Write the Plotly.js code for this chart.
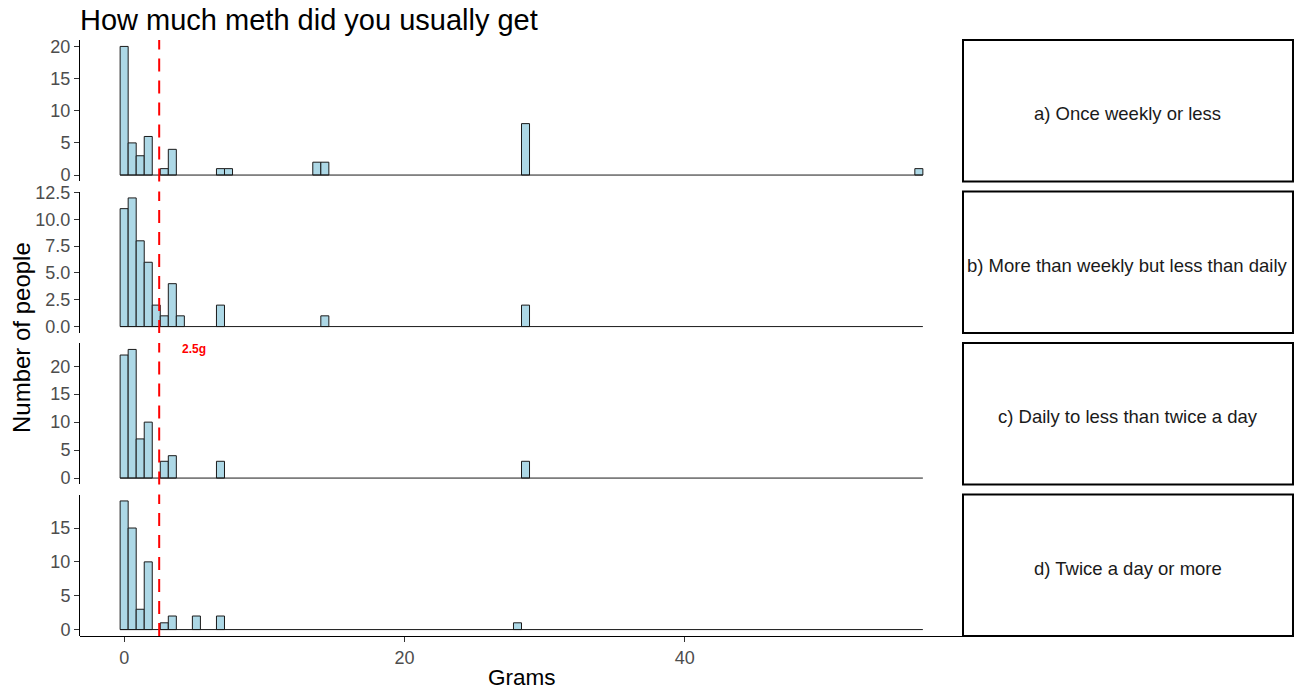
<!DOCTYPE html>
<html>
<head>
<meta charset="utf-8">
<script src="https://cdn.plot.ly/plotly-3.0.1.min.js"></script>
<style>
  html, body { margin: 0; padding: 0; background: #ffffff; }
  #chart { width: 1295px; height: 689px; }
</style>
</head>
<body>
<div id="chart"></div>
<script>
// Histogram of grams usually bought, split by how often people use.
// Bins: 100 equal-width bins from 0 g to 56.7 g (bin index -> centre in grams).
const BIN_COUNT = 100;
const BIN_WIDTH = 56.7 / (BIN_COUNT - 1);
const THRESHOLD_G = 2.5;

const panelLabels = [
  'a) Once weekly or less',
  'b) More than weekly but less than daily',
  'c) Daily to less than twice a day',
  'd) Twice a day or more'
];

// Occupied bins (index) and number of people in each, per frequency group
const binsOnceWeekly   = [0, 1, 2, 3, 5, 6, 12, 13, 24, 25, 50, 99];
const countsOnceWeekly = [20, 5, 3, 6, 1, 4, 1, 1, 2, 2, 8, 1];

const binsWeeklyDaily   = [0, 1, 2, 3, 4, 5, 6, 7, 12, 25, 50];
const countsWeeklyDaily = [11, 12, 8, 6, 2, 1, 4, 1, 2, 1, 2];

const binsDaily   = [0, 1, 2, 3, 5, 6, 12, 50];
const countsDaily = [22, 23, 7, 10, 3, 4, 3, 3];

const binsTwiceDaily   = [0, 1, 2, 3, 5, 6, 9, 12, 49];
const countsTwiceDaily = [19, 15, 3, 10, 1, 2, 2, 2, 1];

const groups = [
  { bins: binsOnceWeekly,  counts: countsOnceWeekly,  domain: [0.7626, 1.0],    dtick: 5,   fmt: '' },
  { bins: binsWeeklyDaily, counts: countsWeeklyDaily, domain: [0.5084, 0.7458], dtick: 2.5, fmt: '.1f' },
  { bins: binsDaily,       counts: countsDaily,       domain: [0.2542, 0.4916], dtick: 5,   fmt: '' },
  { bins: binsTwiceDaily,  counts: countsTwiceDaily,  domain: [0.0, 0.2374],    dtick: 5,   fmt: '' }
];

const FONT = 'Liberation Sans, Arial, sans-serif';
const TICK_FONT = { family: FONT, size: 18, color: '#4d4d4d' };
const X_DOMAIN_END = 0.72675;   // panels end where the strip boxes begin
const STRIP_END = 0.99835;

const traces = [];
const shapes = [];
const annotations = [];
const layout = {
  width: 1295,
  height: 689,
  margin: { l: 80, r: 0, t: 40, b: 53 },
  paper_bgcolor: '#ffffff',
  plot_bgcolor: '#ffffff',
  showlegend: false,
  font: { family: FONT },
  title: {
    text: 'How much meth did you usually get',
    font: { family: FONT, size: 29, color: '#000000' },
    x: 0, xref: 'paper', xanchor: 'left',
    y: 1 - 20 / 689, yref: 'container', yanchor: 'middle'
  },
  xaxis: {
    domain: [0, X_DOMAIN_END],
    range: [-3.15, 59.85],
    anchor: 'free',
    position: 0,
    tickvals: [0, 20, 40],
    ticks: 'outside',
    ticklen: 5,
    tickcolor: '#333333',
    tickfont: TICK_FONT,
    showline: true,
    linecolor: '#000000',
    linewidth: 1,
    showgrid: false,
    zeroline: false,
    fixedrange: true
  }
};

groups.forEach((g, i) => {
  const n = i + 1;
  const yName = n === 1 ? 'y' : 'y' + n;
  const axisKey = n === 1 ? 'yaxis' : 'yaxis' + n;
  const maxCount = Math.max(...g.counts);

  // outline of the empty bins along zero
  traces.push({
    type: 'scatter',
    mode: 'lines',
    x: [-BIN_WIDTH / 2, (BIN_COUNT - 0.5) * BIN_WIDTH],
    y: [0, 0],
    xaxis: 'x',
    yaxis: yName,
    line: { color: '#1a1a1a', width: 1 },
    hoverinfo: 'skip'
  });

  traces.push({
    type: 'bar',
    x: g.bins.map(b => b * BIN_WIDTH),
    y: g.counts,
    width: BIN_WIDTH,
    xaxis: 'x',
    yaxis: yName,
    marker: { color: '#ADD8E6', line: { color: '#1a1a1a', width: 1 } },
    hovertemplate: '%{y}<extra></extra>'
  });

  layout[axisKey] = {
    domain: g.domain,
    anchor: 'x',
    range: [-0.05 * maxCount, 1.05 * maxCount],
    dtick: g.dtick,
    tick0: 0,
    tickformat: g.fmt,
    ticks: 'outside',
    ticklen: 5,
    tickcolor: '#333333',
    tickfont: TICK_FONT,
    showline: true,
    linecolor: '#000000',
    linewidth: 1,
    showgrid: false,
    zeroline: false,
    fixedrange: true
  };

  // threshold line in every panel
  shapes.push({
    type: 'line',
    xref: 'x', yref: yName + ' domain',
    x0: THRESHOLD_G, x1: THRESHOLD_G, y0: 0, y1: 1,
    line: { color: '#FF0000', width: 2, dash: '13px,9px' },
    layer: 'above'
  });

  // strip box on the right with the group label
  shapes.push({
    type: 'rect',
    xref: 'paper', yref: 'paper',
    x0: X_DOMAIN_END, x1: STRIP_END, y0: g.domain[0], y1: g.domain[1],
    line: { color: '#000000', width: 2 },
    fillcolor: '#ffffff',
    layer: 'below'
  });
  annotations.push({
    xref: 'paper', yref: 'paper',
    x: (X_DOMAIN_END + STRIP_END) / 2,
    y: (g.domain[0] + g.domain[1]) / 2,
    yshift: -3,
    text: panelLabels[i],
    showarrow: false,
    xanchor: 'center', yanchor: 'middle',
    font: { family: FONT, size: 18.5, color: '#1a1a1a' }
  });
});

// threshold label
annotations.push({
  xref: 'x', yref: 'y3',
  x: 5, y: 23,
  text: '<b>2.5g</b>',
  showarrow: false,
  xanchor: 'center', yanchor: 'middle',
  font: { family: FONT, size: 12, color: '#FF0000' }
});

// axis titles
annotations.push({
  xref: 'paper', yref: 'paper',
  x: X_DOMAIN_END / 2, y: -41 / 596,
  text: 'Grams',
  showarrow: false,
  xanchor: 'center', yanchor: 'middle',
  font: { family: FONT, size: 22.5, color: '#000000' }
});
annotations.push({
  xref: 'paper', yref: 'paper',
  x: -59 / 1215, y: 0.5,
  text: 'Number of people',
  textangle: -90,
  showarrow: false,
  xanchor: 'center', yanchor: 'middle',
  font: { family: FONT, size: 24, color: '#000000' }
});

layout.shapes = shapes;
layout.annotations = annotations;
layout.bargap = 0;

Plotly.newPlot('chart', traces, layout, { displayModeBar: false, staticPlot: true });
</script>
</body>
</html>
